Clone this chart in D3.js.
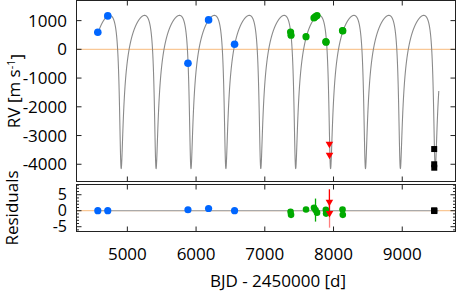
<!DOCTYPE html>
<html>
<head>
<meta charset="utf-8">
<script src="https://cdn.jsdelivr.net/npm/d3@7"></script>
<style>
  body { margin: 0; background: #fff; }
  text { font-family: "Open Sans", sans-serif; fill: #000; }
</style>
</head>
<body>
<div class="root"></div>
<script>
// --- data (BJD - 2450000, RV in m/s, residuals in m/s) ---
const blueT   = [4570, 4715, 5882, 6182, 6560];
const blueRV  = [596, 1164, -484, 1024, 178];
const blueRes = [0, 0, 0.3, 0.7, 0];

const greenT   = [7375, 7382, 7600, 7716, 7738, 7760, 7888, 7892, 8131, 8135];
const greenRV  = [600, 490, 442, 1094, 1140, 1174, 268, 250, 652, 640];
const greenRes = [-0.3, -1.3, 0.4, 0.9, 0.2, -0.6, 0.3, -0.9, 0.4, -1.3];
const greenErr = [0, 0, 0, 0, 3.6, 0, 0, 0, 0, 0];

const redT   = [7940, 7942];
const redRV  = [-3320, -3704];
const redRes = [2.5, -1.0];
const redErr = [4.2, 4.3];

const blackT   = [9465, 9465, 9466];
const blackRV  = [-3470, -4000, -4120];
const blackRes = [0, 0.1, -0.1];

const xTicks = [5000, 6000, 7000, 8000, 9000];
const yTicks = [-4000, -3000, -2000, -1000, 0, 1000];
const rTicks = [-5, 0, 5];

// Keplerian fit (orbital elements estimated from the plotted curve)
const orbit = { P: 507.8, e: 0.6, omega: 158, K: 2665, gamma: 0, Tp: 7951 };
const modelStart = 4570, modelEnd = 9532;

const w = 457;
const h = 294;
const left = 76.5, right = 455.5;

const svg = d3.select(".root")
              .append("svg")
              .attr("width", w)
              .attr("height", h);

const xScale = d3.scaleLinear().domain([4260, 9775]).range([left, right]);
const yScale = d3.scaleLinear().domain([-4600, 1700]).range([181.5, 0.5]);
const rScale = d3.scaleLinear().domain([-6.5, 8.2]).range([231.5, 184.5]);

function rv(t) {
  const M = 2 * Math.PI * (t - orbit.Tp) / orbit.P;
  let E = M;
  for (let i = 0; i < 50; i++) {
    E = E - (E - orbit.e * Math.sin(E) - M) / (1 - orbit.e * Math.cos(E));
  }
  const nu = 2 * Math.atan2(Math.sqrt(1 + orbit.e) * Math.sin(E / 2),
                            Math.sqrt(1 - orbit.e) * Math.cos(E / 2));
  const om = orbit.omega * Math.PI / 180;
  return orbit.gamma + orbit.K * (Math.cos(nu + om) + orbit.e * Math.cos(om));
}

const modelT = d3.range(modelStart, modelEnd, 0.5).concat([modelEnd]);

const gTop = svg.append("g");
const gBot = svg.append("g");

// clip paths
svg.append("clipPath").attr("id", "clipTop")
   .append("rect").attr("x", left).attr("y", 0.5).attr("width", right - left).attr("height", 181);

// zero lines
gTop.append("line")
   .attr("x1", left).attr("x2", right)
   .attr("y1", yScale(0)).attr("y2", yScale(0))
   .attr("stroke", "#f9c896").attr("stroke-width", 1.3);
gBot.append("line")
   .attr("x1", left).attr("x2", right)
   .attr("y1", rScale(0)).attr("y2", rScale(0))
   .attr("stroke", "#f9c896").attr("stroke-width", 1.3);

// model curve
gTop.append("path")
   .datum(modelT)
   .attr("clip-path", "url(#clipTop)")
   .attr("fill", "none")
   .attr("stroke", "#8a8a8a")
   .attr("stroke-width", 1.1)
   .attr("d", d3.line().x(t => xScale(t)).y(t => yScale(rv(t))));
gBot.append("line")
   .attr("x1", xScale(modelStart)).attr("x2", xScale(modelEnd))
   .attr("y1", rScale(0)).attr("y2", rScale(0))
   .attr("stroke", "#aaaaaa").attr("stroke-width", 1.3);

// error bars in residuals
const greenBars = greenT.map((t, i) => [t, greenRes[i], greenErr[i]]).filter(d => d[2] > 0);
gBot.selectAll(".gerr")
   .data(greenBars)
   .enter()
   .append("line")
   .attr("x1", d => xScale(d[0])).attr("x2", d => xScale(d[0]))
   .attr("y1", d => rScale(d[1] + d[2])).attr("y2", d => rScale(d[1] - d[2]))
   .attr("stroke", "#00aa00").attr("stroke-width", 1.3);
gBot.selectAll(".rerr")
   .data(redT.map((t, i) => [t, redRes[i], redErr[i]]))
   .enter()
   .append("line")
   .attr("x1", d => xScale(d[0])).attr("x2", d => xScale(d[0]))
   .attr("y1", d => rScale(d[1] + d[2])).attr("y2", d => rScale(d[1] - d[2]))
   .attr("stroke", "#ff0000").attr("stroke-opacity", (d, i) => i === 0 ? 1 : 0.5)
   .attr("stroke-width", 1.3);

// markers
function circles(g, ts, vs, scale, color, r) {
  g.selectAll(null)
   .data(ts.map((t, i) => [t, vs[i]]))
   .enter()
   .append("circle")
   .attr("cx", d => xScale(d[0]))
   .attr("cy", d => scale(d[1]))
   .attr("r", r)
   .attr("fill", color);
}
function triangles(g, ts, vs, scale) {
  g.selectAll(null)
   .data(ts.map((t, i) => [t, vs[i]]))
   .enter()
   .append("path")
   .attr("transform", d => "translate(" + xScale(d[0]) + "," + scale(d[1]) + ")")
   .attr("d", "M-3.8,-3L3.8,-3L0,3.6Z")
   .attr("fill", "#ff0000");
}
function squares(g, ts, vs, scale) {
  g.selectAll(null)
   .data(ts.map((t, i) => [t, vs[i]]))
   .enter()
   .append("rect")
   .attr("x", d => xScale(d[0]) - 3)
   .attr("y", d => scale(d[1]) - 3)
   .attr("width", 6).attr("height", 6)
   .attr("fill", "#000");
}

circles(gTop, blueT, blueRV, yScale, "#0066ff", 3.8);
circles(gTop, greenT, greenRV, yScale, "#00aa00", 3.6);
triangles(gTop, redT, redRV, yScale);
squares(gTop, blackT, blackRV, yScale);

circles(gBot, blueT, blueRes, rScale, "#0066ff", 3.6);
circles(gBot, greenT, greenRes, rScale, "#00aa00", 3.3);
triangles(gBot, redT, redRes, rScale);
squares(gBot, blackT, blackRes, rScale);

// frames and ticks
function frame(y0, y1, yS, yT, minor, fs) {
  svg.append("rect")
     .attr("x", left).attr("y", y0)
     .attr("width", right - left).attr("height", y1 - y0)
     .attr("fill", "none").attr("stroke", "#222").attr("stroke-width", 1);
  const g = svg.append("g").attr("stroke", "#222").attr("stroke-width", 1);
  xTicks.forEach(t => {
    g.append("line").attr("x1", xScale(t)).attr("x2", xScale(t)).attr("y1", y0).attr("y2", y0 + 5);
    g.append("line").attr("x1", xScale(t)).attr("x2", xScale(t)).attr("y1", y1).attr("y2", y1 - 5);
  });
  yT.forEach(v => {
    g.append("line").attr("x1", left).attr("x2", left + 5).attr("y1", yS(v)).attr("y2", yS(v));
    g.append("line").attr("x1", right).attr("x2", right - 5).attr("y1", yS(v)).attr("y2", yS(v));
  });
  minor.forEach(v => {
    g.append("line").attr("x1", left).attr("x2", left + 2.5).attr("y1", yS(v)).attr("y2", yS(v));
    g.append("line").attr("x1", right).attr("x2", right - 2.5).attr("y1", yS(v)).attr("y2", yS(v));
  });
  svg.selectAll(null)
     .data(yT)
     .enter()
     .append("text")
     .attr("x", 67)
     .attr("y", d => yS(d))
     .attr("dy", "0.36em")
     .attr("text-anchor", "end")
     .style("font-size", fs)
     .text(d => d < 0 ? "-" + Math.abs(d) : d);
}

frame(0.5, 181.5, yScale, yTicks, [], "17px");
frame(184.5, 231.5, rScale, rTicks, d3.range(-6, 9).filter(v => v % 5 !== 0), "16px");

// x tick labels
svg.selectAll(null)
   .data(xTicks)
   .enter()
   .append("text")
   .attr("x", d => xScale(d))
   .attr("y", 259.5)
   .attr("text-anchor", "middle")
   .style("font-size", "17px")
   .text(d => d);

// axis titles
svg.append("text")
   .attr("x", 278)
   .attr("y", 286.5)
   .attr("text-anchor", "middle")
   .style("font-size", "17px")
   .text("BJD - 2450000 [d]");

const rvLabel = svg.append("text")
   .attr("text-anchor", "middle")
   .attr("transform", "translate(20,91)rotate(-90)")
   .style("font-size", "17px");
rvLabel.append("tspan").text("RV [m s");
rvLabel.append("tspan").attr("dy", "-0.45em").style("font-size", "11px").text("-1");
rvLabel.append("tspan").attr("dy", "0.45em").text("]");

svg.append("text")
   .attr("text-anchor", "middle")
   .attr("transform", "translate(17.5,208)rotate(-90)")
   .style("font-size", "17px")
   .text("Residuals");
</script>
</body>
</html>
